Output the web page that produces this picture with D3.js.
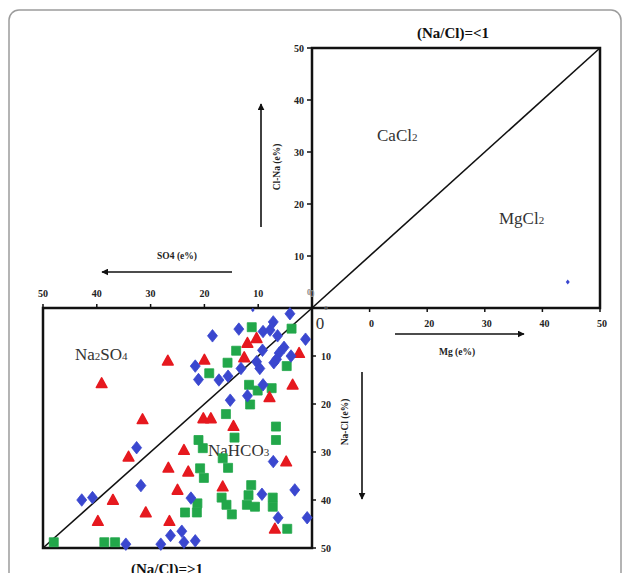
<!DOCTYPE html>
<html>
<head>
<meta charset="utf-8">
<script src="https://cdn.jsdelivr.net/npm/d3@7"></script>
<style>
  html, body { margin: 0; padding: 0; background: #fff; }
  svg { display: block; }
</style>
</head>
<body>
<div id="chart"></div>
<script>
// Sulin diagram
// lower square: [SO4 (e%), Na-Cl (e%)]
const blueDiamonds = [
  [4.1, 1.2], [7.2, 2.9], [18.5, 5.8], [13.6, 4.4], [9.1, 4.9], [7.8, 4.6],
  [6.4, 5.8], [1.2, 6.5], [9.2, 8.8], [5.2, 8.2], [6.1, 9.4], [6.6, 10.7],
  [3.9, 10.0], [7.1, 11.4], [10.3, 11.2], [9.7, 12.6], [13.2, 12.6], [21.7, 12.1],
  [21.1, 14.9], [17.3, 15.0], [15.6, 14.2], [9.1, 16.0], [12.0, 18.3], [15.2, 19.2],
  [32.6, 29.1], [31.8, 37.0], [42.8, 40.0], [40.8, 39.5], [34.6, 49.2], [28.1, 49.2],
  [26.3, 47.4], [24.2, 46.5], [23.8, 48.8], [21.7, 48.5], [7.2, 32.0], [3.2, 37.9],
  [9.3, 38.8], [6.3, 43.7], [0.9, 43.7], [22.5, 39.6]
];
const greenSquares = [
  [11.2, 4.0], [3.8, 4.3], [14.1, 8.9], [15.7, 11.4], [4.7, 12.1], [19.1, 13.6],
  [11.7, 16.0], [10.1, 17.2], [7.5, 16.7], [11.5, 20.1], [16.0, 22.1], [6.7, 24.7],
  [48.0, 48.8], [38.6, 48.8], [36.6, 48.8], [21.1, 27.5], [20.3, 29.2], [6.7, 27.5],
  [16.6, 31.3], [15.6, 33.3], [20.8, 33.4], [20.1, 35.4], [14.4, 27.0], [11.3, 36.9],
  [11.8, 39.0], [12.1, 41.0], [10.6, 41.4], [7.3, 39.5], [7.3, 41.4], [16.8, 39.5],
  [15.9, 41.0], [14.9, 43.0], [21.3, 40.7], [21.4, 42.6], [23.6, 42.6], [4.6, 46.0]
];
const redTriangles = [
  [12.0, 7.3], [10.3, 6.3], [12.6, 10.3], [20.0, 10.8], [2.4, 9.4], [3.6, 16.0],
  [7.9, 18.6], [20.2, 23.0], [18.8, 23.0], [14.6, 24.6], [26.8, 11.0], [39.1, 15.7],
  [31.5, 23.2], [34.1, 31.0], [26.7, 33.3], [37.0, 40.0], [39.8, 44.4], [30.9, 42.6],
  [25.0, 37.9], [26.5, 44.4], [23.8, 29.6], [23.0, 34.1], [16.6, 37.2], [6.9, 46.0],
  [4.8, 32.0]
];
const smallLowerPoints = [[11.0, 0.4]];
// upper square: [Mg (e%), Cl-Na (e%)]
const smallUpperPoints = [[44.4, 5.0]];

const upperYTicks = [10, 20, 30, 40, 50];
const upperXTicks = [10, 20, 30, 40, 50];
const upperXLabels = ["0", "20", "30", "40", "50"];
const lowerXTicks = [50, 40, 30, 20, 10, 0];
const lowerYTicks = [10, 20, 30, 40, 50];

const width = 629, height = 573;
const blue = "#3a47cf", green = "#22a74a", red = "#e6191f";
const serif = "'Liberation Serif', 'DejaVu Serif', serif";

const svg = d3.select("#chart").append("svg")
  .attr("width", width).attr("height", height);

// frame
svg.append("rect")
  .attr("x", 9).attr("y", 10).attr("width", 612).attr("height", 620)
  .attr("rx", 10)
  .attr("fill", "none").attr("stroke", "#9c9c9c").attr("stroke-width", 1.5);

// scales
const xUp = d3.scaleLinear().domain([0, 50]).range([312, 600]);
const yUp = d3.scaleLinear().domain([0, 50]).range([308, 48]);
const xLow = d3.scaleLinear().domain([50, 0]).range([43, 312]);
const yLow = d3.scaleLinear().domain([0, 50]).range([308, 548]);

const defs = svg.append("defs");
defs.append("marker")
  .attr("id", "arrow")
  .attr("viewBox", "0 0 10 10")
  .attr("refX", 9).attr("refY", 5)
  .attr("markerWidth", 7).attr("markerHeight", 7)
  .attr("markerUnits", "userSpaceOnUse")
  .attr("orient", "auto")
  .append("path").attr("d", "M0,0 L10,5 L0,10 Z").attr("fill", "#111");

// squares
svg.append("rect")
  .attr("x", xUp(0)).attr("y", yUp(50))
  .attr("width", xUp(50) - xUp(0)).attr("height", yUp(0) - yUp(50))
  .attr("fill", "none").attr("stroke", "#111").attr("stroke-width", 2.5);
svg.append("rect")
  .attr("x", xLow(50)).attr("y", yLow(0))
  .attr("width", xLow(0) - xLow(50)).attr("height", yLow(50) - yLow(0))
  .attr("fill", "none").attr("stroke", "#111").attr("stroke-width", 2.5);

// diagonals
svg.append("line")
  .attr("x1", xUp(0)).attr("y1", yUp(0)).attr("x2", xUp(50)).attr("y2", yUp(50))
  .attr("stroke", "#111").attr("stroke-width", 1.6);
svg.append("line")
  .attr("x1", xLow(0)).attr("y1", yLow(0)).attr("x2", xLow(50)).attr("y2", yLow(50))
  .attr("stroke", "#111").attr("stroke-width", 1.6);

// ticks + labels
const tickFont = g => g.attr("font-family", serif).attr("font-weight", "bold")
  .attr("font-size", 10).attr("fill", "#222");

// upper left axis
const uy = svg.append("g");
uy.selectAll("line").data(upperYTicks).join("line")
  .attr("x1", xUp(0) - 5).attr("x2", xUp(0)).attr("y1", d => yUp(d)).attr("y2", d => yUp(d))
  .attr("stroke", "#111").attr("stroke-width", 1.5);
uy.selectAll("text").data(upperYTicks).join("text")
  .attr("x", xUp(0) - 8).attr("y", d => yUp(d) + 3.5)
  .attr("text-anchor", "end").text(d => d).call(tickFont);

// upper bottom axis
const ux = svg.append("g");
ux.selectAll("line").data(upperXTicks).join("line")
  .attr("x1", d => xUp(d)).attr("x2", d => xUp(d)).attr("y1", yUp(0)).attr("y2", yUp(0) + 4)
  .attr("stroke", "#111").attr("stroke-width", 1.5);
ux.selectAll("text").data(upperXTicks).join("text")
  .attr("x", d => xUp(d) + 2).attr("y", yUp(0) + 19)
  .attr("text-anchor", "middle").text((d, i) => upperXLabels[i]).call(tickFont);

// lower top axis
const lx = svg.append("g");
lx.selectAll("line").data(lowerXTicks).join("line")
  .attr("x1", d => xLow(d)).attr("x2", d => xLow(d)).attr("y1", yLow(0) - 4).attr("y2", yLow(0))
  .attr("stroke", "#111").attr("stroke-width", 1.5);
lx.selectAll("text").data(lowerXTicks).join("text")
  .attr("x", d => xLow(d)).attr("y", yLow(0) - 11)
  .attr("text-anchor", "middle").text(d => d).call(tickFont)
  .attr("fill", d => d === 0 ? "#999" : "#222");

// lower right axis
const ly = svg.append("g");
ly.selectAll("line").data(lowerYTicks).join("line")
  .attr("x1", xLow(0)).attr("x2", xLow(0) + 4).attr("y1", d => yLow(d)).attr("y2", d => yLow(d))
  .attr("stroke", "#111").attr("stroke-width", 1.5);
ly.selectAll("text").data(lowerYTicks).join("text")
  .attr("x", xLow(0) + 9).attr("y", d => yLow(d) + 3.5)
  .attr("text-anchor", "start").text(d => d).call(tickFont);

// zero labels around origin
svg.append("text").attr("x", 320).attr("y", 329).attr("text-anchor", "middle")
  .attr("font-family", serif).attr("font-size", 17).attr("fill", "#333").text("0");
svg.append("text").attr("x", 326).attr("y", 310).attr("text-anchor", "middle")
  .call(tickFont).attr("font-size", 7).attr("fill", "#777").text("0");
svg.append("text").attr("x", 309).attr("y", 295).attr("text-anchor", "middle")
  .call(tickFont).attr("font-size", 8).attr("fill", "#888").text("0");

// arrows and axis titles
const arrow = (x1, y1, x2, y2) => svg.append("line")
  .attr("x1", x1).attr("y1", y1).attr("x2", x2).attr("y2", y2)
  .attr("stroke", "#111").attr("stroke-width", 1.6).attr("marker-end", "url(#arrow)");
arrow(261, 227, 261, 104);
arrow(232, 272, 102, 272);
arrow(395, 334, 524, 334);
arrow(362, 372, 362, 499);

const axisTitle = (x, y, txt, rot) => svg.append("text")
  .attr("transform", `translate(${x},${y}) rotate(${rot})`)
  .attr("text-anchor", "middle")
  .attr("font-family", serif).attr("font-weight", "bold").attr("font-size", 9.5)
  .attr("fill", "#222").text(txt);
axisTitle(280, 167, "Cl-Na (e%)", -90);
axisTitle(348, 422, "Na-Cl (e%)", -90);
axisTitle(457, 355, "Mg (e%)", 0);
axisTitle(177, 259, "SO4 (e%)", 0);

// titles
svg.append("text").attr("x", 453).attr("y", 38).attr("text-anchor", "middle")
  .attr("font-family", serif).attr("font-weight", "bold").attr("font-size", 15)
  .attr("fill", "#111").text("(Na/Cl)=<1");
svg.append("text").attr("x", 167).attr("y", 574).attr("text-anchor", "middle")
  .attr("font-family", serif).attr("font-weight", "bold").attr("font-size", 15)
  .attr("fill", "#111").text("(Na/Cl)=>1");

// region labels with small subscripts
const region = (x, y, parts) => {
  const t = svg.append("text").attr("x", x).attr("y", y)
    .attr("font-family", serif).attr("font-size", 17).attr("fill", "#333");
  parts.forEach(([s, small]) => t.append("tspan").attr("font-size", small ? 11 : 17).text(s));
};
region(377, 141, [["CaCl", false], ["2", true]]);
region(499, 224, [["MgCl", false], ["2", true]]);
region(75, 360, [["Na", false], ["2", true], ["SO", false], ["4", true]]);
region(208, 456, [["NaHCO", false], ["3", true]]);

// markers
const diamond = (s) => `M0,${-s * 1.25}L${s},0L0,${s * 1.25}L${-s},0Z`;
const pts = svg.append("g");

pts.selectAll("path.sq").data(greenSquares).join("path").attr("class", "sq")
  .attr("transform", d => `translate(${xLow(d[0])},${yLow(d[1])})`)
  .attr("d", "M-4.5,-4.5H4.5V4.5H-4.5Z")
  .attr("fill", green).attr("stroke", green).attr("stroke-width", 0.8);

pts.selectAll("path.tri").data(redTriangles).join("path").attr("class", "tri")
  .attr("transform", d => `translate(${xLow(d[0])},${yLow(d[1])})`)
  .attr("d", "M0,-5.5L5.3,4.2L-5.3,4.2Z")
  .attr("fill", red).attr("stroke", red).attr("stroke-width", 1.6)
  .attr("stroke-linejoin", "round");

pts.selectAll("path.dia").data(blueDiamonds).join("path").attr("class", "dia")
  .attr("transform", d => `translate(${xLow(d[0])},${yLow(d[1])})`)
  .attr("d", diamond(5))
  .attr("fill", blue).attr("stroke", blue).attr("stroke-width", 0.8)
  .attr("stroke-linejoin", "round");

pts.selectAll("path.smallLow").data(smallLowerPoints).join("path").attr("class", "smallLow")
  .attr("transform", d => `translate(${xLow(d[0])},${yLow(d[1])})`)
  .attr("d", diamond(1.8)).attr("fill", blue);

pts.selectAll("path.smallUp").data(smallUpperPoints).join("path").attr("class", "smallUp")
  .attr("transform", d => `translate(${xUp(d[0])},${yUp(d[1])})`)
  .attr("d", diamond(2)).attr("fill", blue);
</script>
</body>
</html>
